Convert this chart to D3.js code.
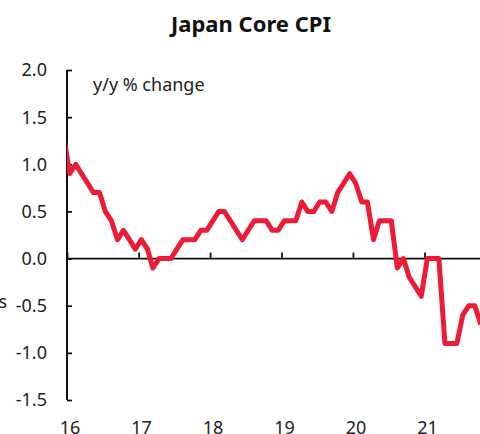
<!DOCTYPE html>
<html>
<head>
<meta charset="utf-8">
<script src="https://cdn.jsdelivr.net/npm/d3@7"></script>
<style>
  html, body { margin: 0; padding: 0; background: #fff; overflow: hidden; }
  svg { display: block; font-family: "Noto Sans", "Open Sans", sans-serif; }
</style>
</head>
<body>
<svg id="chart" width="480" height="434"></svg>
<script>
// monthly y/y % change, first value is Dec 2015 (clipped at the axis)
var firstMonth = [2015, 11];
var cpi = [1.3,
  0.9, 1.0, 0.9, 0.8, 0.7, 0.7, 0.5, 0.4, 0.2, 0.3, 0.2, 0.1,      // 2016
  0.2, 0.1, -0.1, 0.0, 0.0, 0.0, 0.1, 0.2, 0.2, 0.2, 0.3, 0.3,     // 2017
  0.4, 0.5, 0.5, 0.4, 0.3, 0.2, 0.3, 0.4, 0.4, 0.4, 0.3, 0.3,      // 2018
  0.4, 0.4, 0.4, 0.6, 0.5, 0.5, 0.6, 0.6, 0.5, 0.7, 0.8, 0.9,      // 2019
  0.8, 0.6, 0.6, 0.2, 0.4, 0.4, 0.4, -0.1, 0.0, -0.2, -0.3, -0.4,  // 2020
  0.0, 0.0, 0.0, -0.9, -0.9, -0.9, -0.6, -0.5, -0.5, -0.7          // 2021
];
var yTicks = [2.0, 1.5, 1.0, 0.5, 0.0, -0.5, -1.0, -1.5];
var xYears = [2016, 2017, 2018, 2019, 2020, 2021];

var svg = d3.select("#chart");
var WIDTH = 480, HEIGHT = 434;

var x = d3.scaleTime()
  .domain([new Date(2016, 0, 1), new Date(2022, 0, 1)])
  .range([67, 496]);
var y = d3.scaleLinear()
  .domain([-1.5, 2.0])
  .range([400, 70]);

var points = cpi.map(function(v, i) {
  return { date: new Date(firstMonth[0], firstMonth[1] + i, 15), value: v };
});

// title + unit label
svg.append("text")
  .attr("x", 251).attr("y", 32)
  .attr("text-anchor", "middle")
  .style("font-size", "22px").style("font-weight", "bold").style("fill", "#111")
  .text("Japan Core CPI");

svg.append("text")
  .attr("x", 93).attr("y", 91)
  .style("font-size", "18px").style("fill", "#222")
  .text("y/y % change");

// cut-off label at left edge
svg.append("text")
  .attr("x", 7).attr("y", 308)
  .attr("text-anchor", "end")
  .style("font-size", "18px").style("fill", "#222")
  .text("s");

// y axis
var yAxis = svg.append("g")
  .attr("transform", "translate(" + x(new Date(2016, 0, 1)) + ",0)")
  .call(d3.axisRight(y).tickValues(yTicks).tickSize(5).tickFormat(""));
yAxis.select(".domain").remove();
yAxis.append("line")
  .attr("y1", y(2.0)).attr("y2", y(-1.5))
  .attr("stroke", "#111").attr("stroke-width", 2);
yAxis.selectAll(".tick line").attr("stroke", "#111").attr("stroke-width", 1.8);

svg.append("g").selectAll("text")
  .data(yTicks)
  .enter().append("text")
  .attr("x", 47)
  .attr("y", function(d) { return y(d); })
  .attr("dy", "0.36em")
  .attr("text-anchor", "end")
  .style("font-size", "18px").style("fill", "#222")
  .text(function(d) { return d3.format(".1f")(d).replace("−", "-"); });

// x axis on zero line, ticks pointing up
var xAxis = svg.append("g")
  .attr("transform", "translate(0," + y(0) + ")")
  .call(d3.axisTop(x)
    .tickValues(xYears.map(function(yr) { return new Date(yr, 0, 1); }))
    .tickSize(6).tickSizeOuter(0).tickFormat(""));
xAxis.select(".domain").remove();
xAxis.append("line")
  .attr("x1", x(new Date(2016, 0, 1))).attr("x2", WIDTH)
  .attr("stroke", "#111").attr("stroke-width", 1.8);
xAxis.selectAll(".tick line").attr("stroke", "#111").attr("stroke-width", 1.8);

svg.append("g").selectAll("text")
  .data(xYears)
  .enter().append("text")
  .attr("x", function(d) { return x(new Date(d, 0, 1)) + 3; })
  .attr("y", 434)
  .attr("text-anchor", "middle")
  .style("font-size", "18px").style("fill", "#222")
  .text(function(d) { return String(d).slice(2); });

// clip the series at the y axis
svg.append("clipPath").attr("id", "plot")
  .append("rect")
  .attr("x", x(new Date(2016, 0, 1))).attr("y", 0)
  .attr("width", WIDTH).attr("height", HEIGHT);

var line = d3.line()
  .x(function(d) { return x(d.date); })
  .y(function(d) { return y(d.value); });

svg.append("path")
  .datum(points)
  .attr("clip-path", "url(#plot)")
  .attr("fill", "none")
  .attr("stroke", "#ec1c37")
  .attr("stroke-width", 5)
  .attr("stroke-linejoin", "round")
  .attr("d", line);
</script>
</body>
</html>
